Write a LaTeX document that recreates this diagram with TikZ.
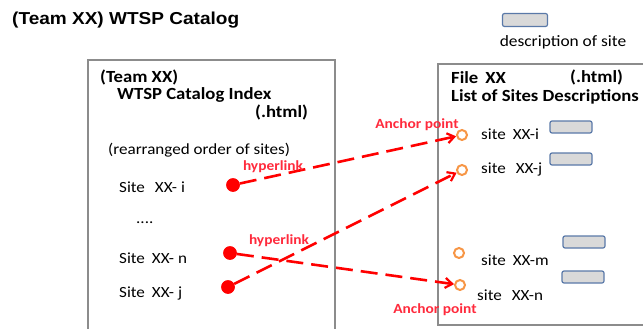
\documentclass[tikz,border=0pt]{standalone}
\usepackage{fontspec}
\setmainfont{Carlito}[FakeStretch=1.1]
\newfontfamily\arialf{Liberation Sans}[FakeStretch=1.1]
\usetikzlibrary{arrows.meta}
\definecolor{boxgray}{HTML}{8C8C8C}
\definecolor{linkred}{HTML}{FF0000}
\definecolor{lblred}{HTML}{FF2A3C}
\definecolor{anchororange}{HTML}{F79646}
\definecolor{descfill}{HTML}{D9D9D9}
\definecolor{descedge}{HTML}{5A79A8}
\begin{document}
\begin{tikzpicture}[x=1pt,y=-1pt,
  txt/.style={anchor=west,inner sep=0pt,font=\fontsize{15.5}{17}\selectfont},
  btxt/.style={anchor=west,inner sep=0pt,font=\fontsize{17}{19}\selectfont\bfseries},
  lbl/.style={anchor=center,inner sep=0pt,text=lblred,font=\fontsize{14}{16}\selectfont\bfseries},
  srcdot/.style={circle,fill=linkred,inner sep=0pt,minimum size=13.5pt},
  anch/.style={circle,draw=anchororange,line width=2pt,inner sep=0pt,minimum size=10pt},
  desc/.style={draw=descedge,fill=descfill,line width=1.2pt,rounded corners=2pt,minimum width=42pt,minimum height=12pt,inner sep=0pt},
  link/.style={draw=linkred,line width=2.6pt,dash pattern=on 17pt off 8pt,-{Straight Barb[length=7pt,width=10pt,line width=2.2pt]}},
  frame/.style={draw=boxgray,line width=1.6pt}]
\useasboundingbox (0,0) rectangle (643,329);
% title and legend
\node[anchor=west,inner sep=0pt,font=\arialf\fontsize{17.3}{19}\selectfont\bfseries] (title) at (12,20) {(Team XX) WTSP Catalog};
\node[desc,minimum width=45pt,minimum height=13pt] (legbox) at (525,20) {};
\node[anchor=center,inner sep=0pt,font=\fontsize{15.8}{17}\selectfont] (legtxt) at (563,42) {description of site};
% frames
\draw[frame] (88,331) -- (88,60) -- (335,60) -- (335,331);
\draw[frame] (645,64) -- (438,64) -- (438,325) -- (645,325);
% left box texts
\node[btxt] (team) at (100,77) {(Team XX)};
\node[btxt] (wtsp) at (117,95) {WTSP Catalog Index};
\node[btxt] (html1) at (255,112) {(.html)};
\node[txt] (rearr) at (108,150) {(rearranged order of sites)};
\node[txt] (si) at (119,187) {Site\hspace{10pt}XX- i};
\node[txt] (dots) at (136,223) {....};
\node[txt] (sn) at (119,258) {Site\hspace{7pt}XX- n};
\node[txt] (sj) at (119,293) {Site\hspace{7pt}XX- j};
% right box texts
\node[btxt] (file) at (451,78) {File\hspace{7pt}XX};
\node[btxt] (html2) at (570,77) {(.html)};
\node[btxt] (list) at (451,97) {List of Sites Descriptions};
\node[txt] (ri) at (481,134) {site\hspace{7pt}XX-i};
\node[txt] (rj) at (481,169) {site\hspace{10pt}XX-j};
\node[txt] (rm) at (481,260) {site\hspace{7pt}XX-m};
\node[txt] (rn) at (477,295) {site\hspace{10pt}XX-n};
\node[desc] (di) at (571,127) {};
\node[desc] (dj) at (571,159) {};
\node[desc] (dm) at (584,242) {};
\node[desc] (dn) at (583,277) {};
% anchors
\node[anch] (ai) at (462,135) {};
\node[anch] (aj) at (462,170) {};
\node[anch] (am) at (459,253) {};
\node[anch] (an) at (460,285) {};
% sources
\node[srcdot] (pi) at (233,185) {};
\node[srcdot] (pn) at (230,253) {};
\node[srcdot] (pj) at (228,287) {};
% links
\draw[link] (pi) -- (ai);
\draw[link] (pj) -- (aj);
\draw[link] (pn) -- (an);
\node[srcdot] at (pi) {};
\node[srcdot] at (pn) {};
\node[srcdot] at (pj) {};
% labels
\node[lbl] (hl1) at (273,167) {hyperlink};
\node[lbl] (hl2) at (279,241) {hyperlink};
\node[lbl] (ap1) at (417,125) {Anchor point};
\node[lbl] (ap2) at (435,310) {Anchor point};
\end{tikzpicture}
\end{document}
